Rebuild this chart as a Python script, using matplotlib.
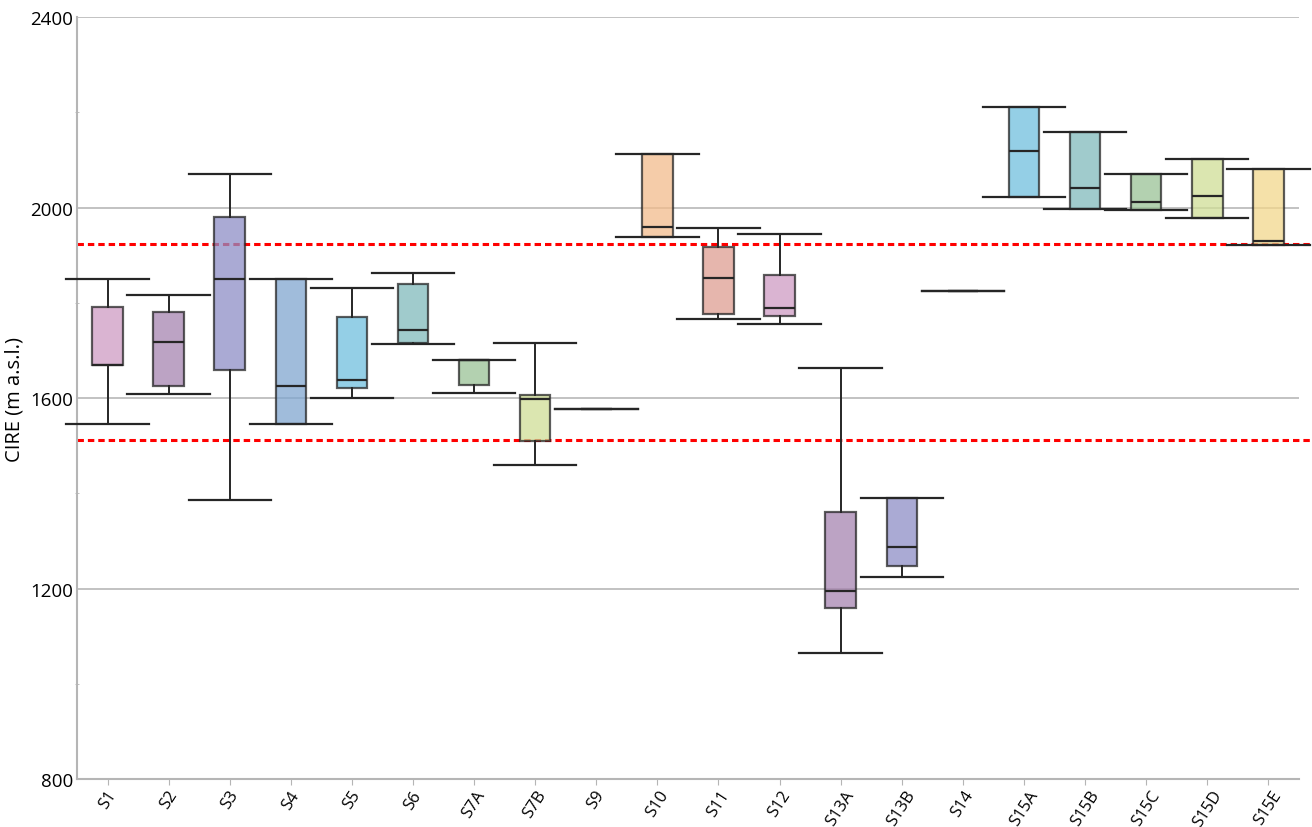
import matplotlib
matplotlib.use("Agg")
import matplotlib.pyplot as plt
from matplotlib.ticker import MultipleLocator

# Site names and five-number summaries of CIRE (m a.s.l.)
sites = ["S1", "S2", "S3", "S4", "S5", "S6", "S7A", "S7B", "S9", "S10",
         "S11", "S12", "S13A", "S13B", "S14", "S15A", "S15B", "S15C", "S15D", "S15E"]
whis_low = [1546, 1609, 1385, 1546, 1601, 1714, 1611, 1460, 1577, 1939,
            1766, 1756, 1064, 1224, 1825, 2023, 1997, 1995, 1979, 1922]
q1 = [1670, 1626, 1659, 1546, 1622, 1716, 1628, 1509, 1577, 1939,
      1777, 1773, 1160, 1248, 1825, 2023, 1997, 1995, 1979, 1922]
median = [1670, 1718, 1850, 1626, 1638, 1743, 1681, 1598, 1577, 1960,
          1852, 1790, 1194, 1288, 1825, 2118, 2041, 2012, 2025, 1931]
q3 = [1792, 1780, 1981, 1850, 1770, 1839, 1681, 1607, 1577, 2113,
      1917, 1858, 1361, 1390, 1825, 2212, 2158, 2071, 2103, 2081]
whis_high = [1850, 1816, 2071, 1850, 1831, 1862, 1681, 1715, 1577, 2113,
             1957, 1945, 1663, 1390, 1825, 2212, 2158, 2071, 2103, 2081]

# Reference elevation band
band_upper = 1924
band_lower = 1512

# Repeating fill palette (drawn semi-transparent)
palette = ["#ce9bc3", "#a684b0", "#8e8ec6", "#80a6d0", "#70c0de", "#80babb",
           "#9ac296", "#d0de96", "#f2d78c", "#f2bb8c", "#de9e92"]

plt.rcParams["font.family"] = ["Open Sans", "DejaVu Sans"]

fig = plt.figure(figsize=(13.12, 8.28), dpi=100)
ax = fig.add_axes([0.0587, 0.058, 0.9313, 0.920])

stats = []
for i, name in enumerate(sites):
    stats.append(dict(label=name, whislo=whis_low[i], q1=q1[i], med=median[i],
                      q3=q3[i], whishi=whis_high[i], fliers=[]))

edge = "#262626"
bp = ax.bxp(stats, positions=range(len(sites)), widths=0.5, capwidths=1.35,
            showfliers=False, patch_artist=True,
            boxprops=dict(edgecolor=edge, linewidth=1.6),
            medianprops=dict(color=edge, linewidth=1.6),
            whiskerprops=dict(color=edge, linewidth=1.4),
            capprops=dict(color=edge, linewidth=1.6),
            zorder=3)
for i, patch in enumerate(bp["boxes"]):
    patch.set_facecolor(palette[i % len(palette)])
    patch.set_alpha(0.75)
    patch.set_edgecolor((0.15, 0.15, 0.15, 0.9))
for art in bp["caps"] + bp["whiskers"] + bp["medians"] + bp["boxes"]:
    art.set_clip_on(False)

# Dotted reference band lines, running to the figure edge
for yv in (band_upper, band_lower):
    ax.plot([-0.5, 19.74], [yv, yv], color="red", linewidth=2.2,
            linestyle=(0, (2.1, 1.3)), zorder=2, clip_on=False)

ax.set_xlim(-0.5, 19.5)
ax.set_ylim(800, 2400)
ax.yaxis.set_major_locator(MultipleLocator(400))
ax.yaxis.set_minor_locator(MultipleLocator(200))
ax.grid(axis="y", which="major", color="#bdbdbd", linewidth=1.3, zorder=0)
ax.set_axisbelow(True)

for s in ("top", "right"):
    ax.spines[s].set_visible(False)
for s in ("left", "bottom"):
    ax.spines[s].set_color("#b5b5b5")
    ax.spines[s].set_linewidth(1.5)

ax.tick_params(axis="y", which="major", length=0, labelsize=13.5, pad=3)
ax.tick_params(axis="y", which="minor", length=3, color="#b5b5b5", direction="inout")
ax.tick_params(axis="x", length=4, color="#b5b5b5", labelsize=12, pad=2)
ax.set_xticks(range(len(sites)))
ax.set_xticklabels(sites, rotation=57, ha="center", va="top")

ax.set_ylabel("CIRE (m a.s.l.)", fontsize=14.5, labelpad=4)

fig.savefig("out.png", dpi=100)
